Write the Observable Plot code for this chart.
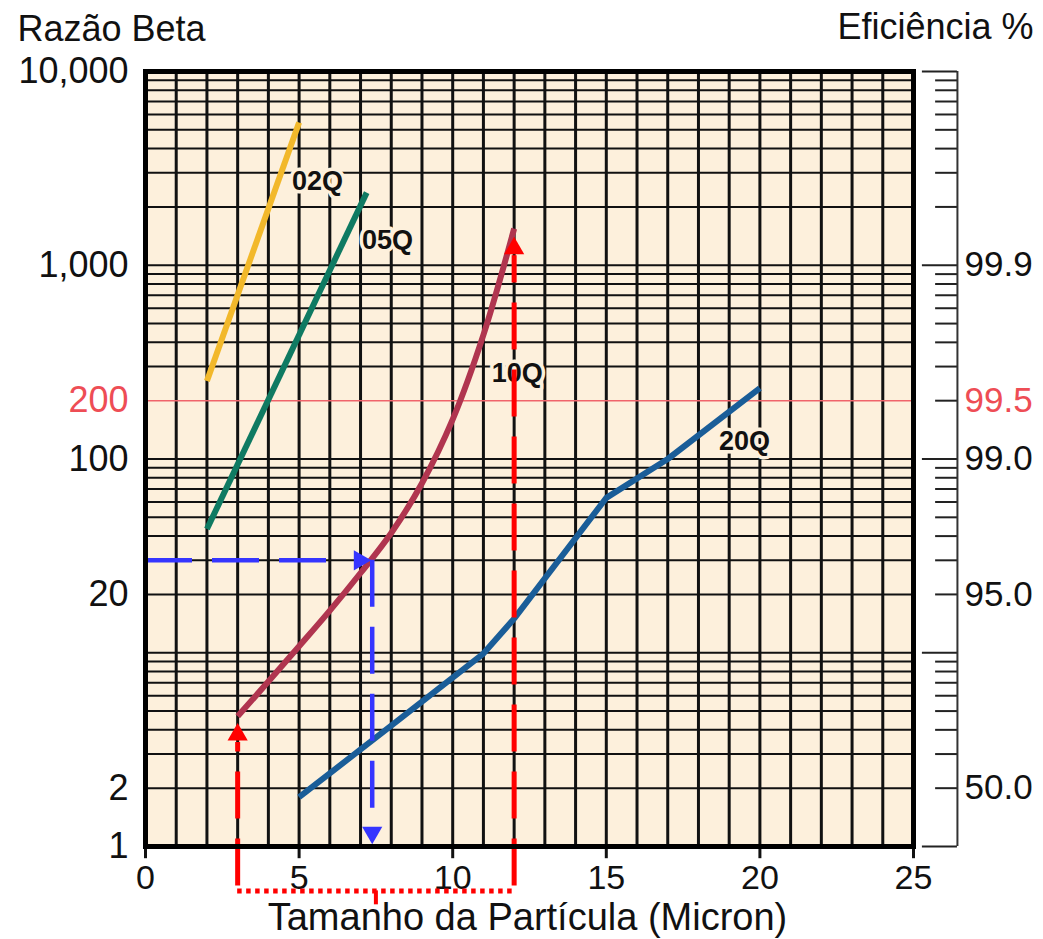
<!DOCTYPE html>
<html><head><meta charset="utf-8">
<script src="https://cdn.jsdelivr.net/npm/d3@7"></script>
<script src="https://cdn.jsdelivr.net/npm/@observablehq/plot@0.6"></script>
<style>body{margin:0;background:#fff;} #chart svg{display:block}</style>
</head><body><div id="chart"></div>
<script>
// ---- data ----
const x02Q = [2, 5];
const beta02Q = [253, 5450];
const x05Q = [2, 7.2];
const beta05Q = [43.5, 2370];
const x10Q = [3, 4, 5, 6, 7, 8, 9, 10, 11, 12];
const beta10Q = [4.7, 7.1, 10.8, 16.5, 25.8, 41.5, 75, 160, 437, 1545];
const x20Q = [5, 8, 11, 12, 15, 17, 20];
const beta20Q = [1.8, 4.2, 9.9, 15, 63, 100, 232];

const seriesNames = ["02Q", "05Q", "10Q", "20Q"];
const labelX = [5.6, 7.88, 12.1, 19.5];
const labelBeta = [2700, 1340, 276, 124];

const leftTickBeta = [10000, 1000, 100, 20, 2, 1];
const leftTickText = ["10,000", "1,000", "100", "20", "2", "1"];
const redBeta = [200];
const redText = ["200"];
const effBeta = [1000, 100, 20, 2];
const effText = ["99.9", "99.0", "95.0", "50.0"];
const effRedText = ["99.5"];

const xTicks = [0, 5, 10, 15, 20, 25];
const xGrid = [1,2,3,4,5,6,7,8,9,10,11,12,13,14,15,16,17,18,19,20,21,22,23,24];
const yGrid = [2,3,4,5,6,7,8,9,10,20,30,40,50,60,70,80,90,100,300,400,500,600,700,800,900,1000,2000,3000,4000,5000,6000,7000,8000,9000];
const yMajor = [1, 10, 100, 1000, 10000];
const yMinor = [2,3,4,5,6,7,8,9,20,30,40,50,60,70,80,90,200,300,400,500,600,700,800,900,2000,3000,4000,5000,6000,7000,8000,9000];

// reading example annotations
const blueReadBeta = 30;     // Beta
const blueReadX = 7.38;      // particle size found
const redFromX = 3;          // particle size range start
const redToX = 12;           // particle size range end
const redToBeta = 1120;
const redFromBeta = 3.44;
const baseBeta = 0.59;       // level of the red bracket (below the axis)

// ---- styling ----
const BG = "#fdf0dc";
const INK = "#111";
const RED = "#ff0000";
const SALMON = "#ee4d55";
const BLUE = "#3535ff";
const FONT = "'Liberation Sans', Arial, Helvetica, sans-serif";

const zip = (xs, bs) => xs.map((x, i) => ({x, b: bs[i]}));
const labels = seriesNames.map((name, i) => ({name, x: labelX[i], b: labelBeta[i]}));
const leftTicks = leftTickBeta.map((b, i) => ({b, t: leftTickText[i]}));
const redTicks = redBeta.map((b, i) => ({b, t: redText[i]}));
const effTicks = effBeta.map((b, i) => ({b, t: effText[i]}));
const effRedTicks = redBeta.map((b, i) => ({b, t: effRedText[i]}));

const chart = Plot.plot({
  width: 1043,
  height: 939,
  marginTop: 71,
  marginBottom: 93,
  marginLeft: 145,
  marginRight: 130,
  style: {background: "#fff", fontFamily: FONT, color: INK},
  x: {domain: [0, 25], axis: null},
  y: {type: "log", domain: [1, 10000], axis: null},
  marks: [
    Plot.frame({fill: BG, stroke: "none"}),
    // grid
    Plot.ruleY(yGrid, {stroke: INK, strokeWidth: 2}),
    Plot.ruleX(xGrid, {stroke: INK, strokeWidth: 3}),
    Plot.ruleY(redBeta, {stroke: "#f0646b", strokeWidth: 1.5}),
    // x ticks
    Plot.ruleX(xTicks, {y1: 1, y2: 0.865, stroke: INK, strokeWidth: 3}),
    Plot.text(xTicks, {x: d => d, text: d => String(d), frameAnchor: "bottom", lineAnchor: "top", dy: 18, fontSize: 34, fill: INK}),
    // left labels
    Plot.text(leftTicks, {y: "b", text: "t", frameAnchor: "left", textAnchor: "end", dx: -17, fontSize: 36, fill: INK}),
    Plot.text(redTicks, {y: "b", text: "t", frameAnchor: "left", textAnchor: "end", dx: -17, fontSize: 36, fill: SALMON}),
    // right efficiency axis
    Plot.ruleX([26.43], {y1: 1, y2: 10000, stroke: "#333", strokeWidth: 2}),
    Plot.ruleY(yMajor, {x1: 25.29, x2: 26.43, stroke: "#222", strokeWidth: 2}),
    Plot.ruleY(yMinor, {x1: 25.72, x2: 26.43, stroke: "#222", strokeWidth: 2}),
    Plot.text(effTicks, {y: "b", text: "t", frameAnchor: "right", textAnchor: "start", dx: 51, fontSize: 35, fill: INK}),
    Plot.text(effRedTicks, {y: "b", text: "t", frameAnchor: "right", textAnchor: "start", dx: 51, fontSize: 35, fill: SALMON}),
    // curves
    Plot.line(zip(x02Q, beta02Q), {x: "x", y: "b", stroke: "#f2b82b", strokeWidth: 6, strokeLinecap: "butt"}),
    Plot.line(zip(x05Q, beta05Q), {x: "x", y: "b", stroke: "#0f7a62", strokeWidth: 6, strokeLinecap: "butt"}),
    Plot.line(zip(x10Q, beta10Q), {x: "x", y: "b", stroke: "#b0354f", strokeWidth: 6, curve: "catmull-rom", strokeLinecap: "butt"}),
    Plot.line(zip(x20Q, beta20Q), {x: "x", y: "b", stroke: "#1a5d98", strokeWidth: 6, strokeLinecap: "butt"}),
    // series labels
    Plot.text(labels, {x: "x", y: "b", text: "name", fontSize: 27, fontWeight: "bold", fill: INK, stroke: BG, strokeWidth: 7}),
    // blue reading arrows
    Plot.ruleY([blueReadBeta], {x1: 0, x2: 6.3, stroke: BLUE, strokeWidth: 4.5, strokeDasharray: "47,20"}),
    Plot.ruleX([blueReadX], {y1: blueReadBeta, y2: 1.48, stroke: BLUE, strokeWidth: 4.5, strokeDasharray: "47,20"}),
    Plot.dot([{x: 6.97, b: blueReadBeta, r: 90}, {x: blueReadX, b: 1.18, r: 180}], {x: "x", y: "b", rotate: "r", symbol: "triangle", r: 7.5, fill: BLUE, stroke: "none"}),
    // red range arrows
    Plot.ruleX([redFromX], {y1: baseBeta * 1.06, y2: redFromBeta, stroke: RED, strokeWidth: 5, strokeDasharray: "47,20"}),
    Plot.ruleX([redToX], {y1: baseBeta * 1.06, y2: redToBeta, stroke: RED, strokeWidth: 5, strokeDasharray: "47,20"}),
    Plot.ruleY([baseBeta], {x1: redFromX, x2: redToX, stroke: RED, strokeWidth: 5, strokeDasharray: "4.5,4.5"}),
    Plot.ruleX([(redFromX + redToX) / 2], {y1: baseBeta, y2: 0.5, stroke: RED, strokeWidth: 4}),
    Plot.dot([{x: redFromX, b: 3.78}, {x: redToX, b: 1220}], {x: "x", y: "b", symbol: "triangle", r: 7.5, fill: RED, stroke: "none"}),
    // frame
    Plot.frame({stroke: "#000", strokeWidth: 5}),
    // titles
    Plot.text(["Razão Beta"], {text: d => d, frameAnchor: "top-left", textAnchor: "start", lineAnchor: "top", dx: -128, dy: -56, fontSize: 36, fill: INK}),
    Plot.text(["Eficiência %"], {text: d => d, frameAnchor: "top-right", textAnchor: "end", lineAnchor: "top", dx: 120, dy: -58, fontSize: 36, fill: INK}),
    Plot.text(["Tamanho da Partícula (Micron)"], {text: d => d, frameAnchor: "bottom", lineAnchor: "top", dx: -2, dy: 57, fontSize: 38, fill: INK})
  ]
});
document.getElementById("chart").appendChild(chart);
</script>
</body></html>
